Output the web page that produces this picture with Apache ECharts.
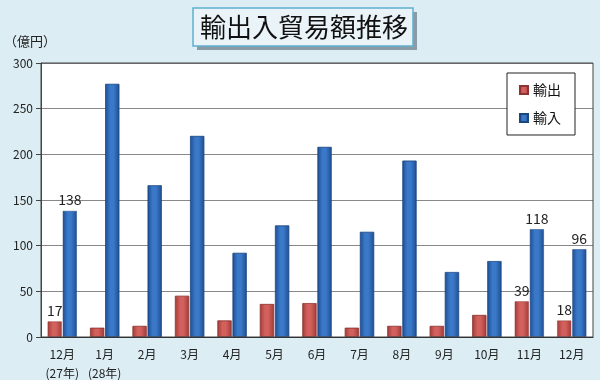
<!DOCTYPE html>
<html><head><meta charset="utf-8">
<script src="https://cdn.jsdelivr.net/npm/echarts@6/dist/echarts.min.js"></script>
<style>html,body{margin:0;padding:0;background:#dcedf4;}#c{width:600px;height:380px;}</style>
</head><body><div id="c"></div>
<script>
const categories = ['12月\n(27年)','1月\n(28年)','2月','3月','4月','5月','6月','7月','8月','9月','10月','11月','12月'];
const exportValues = [17,10,12,45,18,36,37,10,12,12,24,39,18];
const importValues = [138,277,166,220,92,122,208,115,193,71,83,118,96];
const labelIndexes = [0,11,12];
const yTicks = [0,50,100,150,200,250,300];

const font = '"Noto Sans CJK JP", "Noto Sans", sans-serif';
function grad(edge, mid){
  return {type:'linear',x:0,y:0,x2:1,y2:0,colorStops:[
    {offset:0,color:edge},{offset:0.35,color:mid},{offset:0.6,color:mid},{offset:1,color:edge}]};
}
function mk(vals){
  return vals.map((v,i)=>({value:v, label:{show: labelIndexes.includes(i)}}));
}
const chart = echarts.init(document.getElementById('c'));
chart.setOption({
  backgroundColor:'#dcedf4',
  textStyle:{fontFamily:font},
  graphic:[
    {type:'rect',shape:{x:197,y:12,width:220,height:38},style:{fill:'#8a9aa6'},z:1},
    {type:'rect',shape:{x:193,y:8,width:220,height:38},style:{fill:'#eaf3f8',stroke:'#5fb0cf',lineWidth:1.5},z:2},
    {type:'text',x:304,y:27,style:{text:'輸出入貿易額推移',fontSize:26,fontWeight:'normal',fill:'#111',align:'center',verticalAlign:'middle',fontFamily:font},z:3},
    {type:'text',x:4,y:35,style:{text:'（億円）',fontSize:13,fill:'#222',fontFamily:font}},
    {type:'rect',shape:{x:41,y:63,width:552,height:274},style:{fill:'none',stroke:'#444',lineWidth:1},z:10,silent:true}
  ],
  legend:{
    orient:'vertical', right:25, top:73, padding:[10,14,10,12],
    backgroundColor:'#fff', borderColor:'#222', borderWidth:1, borderRadius:0,
    itemWidth:8, itemHeight:8, itemGap:14, icon:'rect',
    textStyle:{fontSize:14,color:'#111',fontFamily:font},
    data:['輸出','輸入']
  },
  grid:{left:41,right:7,top:63,bottom:43,backgroundColor:'#fff',show:true,borderWidth:0,outerBoundsMode:'none',containLabel:false},
  xAxis:{
    type:'category', data:categories,
    axisLine:{lineStyle:{color:'#222'}}, axisTick:{show:false},
    axisLabel:{fontSize:12,color:'#222',lineHeight:19,margin:8,interval:0}
  },
  yAxis:{
    type:'value', min:0, max:300, interval:50,
    axisLine:{show:true,lineStyle:{color:'#444'}},
    axisTick:{show:true,length:5,lineStyle:{color:'#444'}},
    splitLine:{lineStyle:{color:'#888'}},
    axisLabel:{fontSize:12,color:'#222',margin:8, formatter:v=>yTicks.includes(v)?String(v):''}
  },
  series:[
    {name:'輸出',type:'bar',data:mk(exportValues),barWidth:14,barGap:'8%',
     itemStyle:{color:grad('#a33c39','#d2605c'),borderColor:'#8d3431',borderWidth:0.5},
     label:{position:'top',fontSize:14,color:'#222',distance:4}},
    {name:'輸入',type:'bar',data:mk(importValues),barWidth:14,
     itemStyle:{color:grad('#1f4f93','#3a78c8'),borderColor:'#1a4682',borderWidth:0.5},
     label:{position:'top',fontSize:14,color:'#222',distance:4}}
  ]
});
</script></body></html>
